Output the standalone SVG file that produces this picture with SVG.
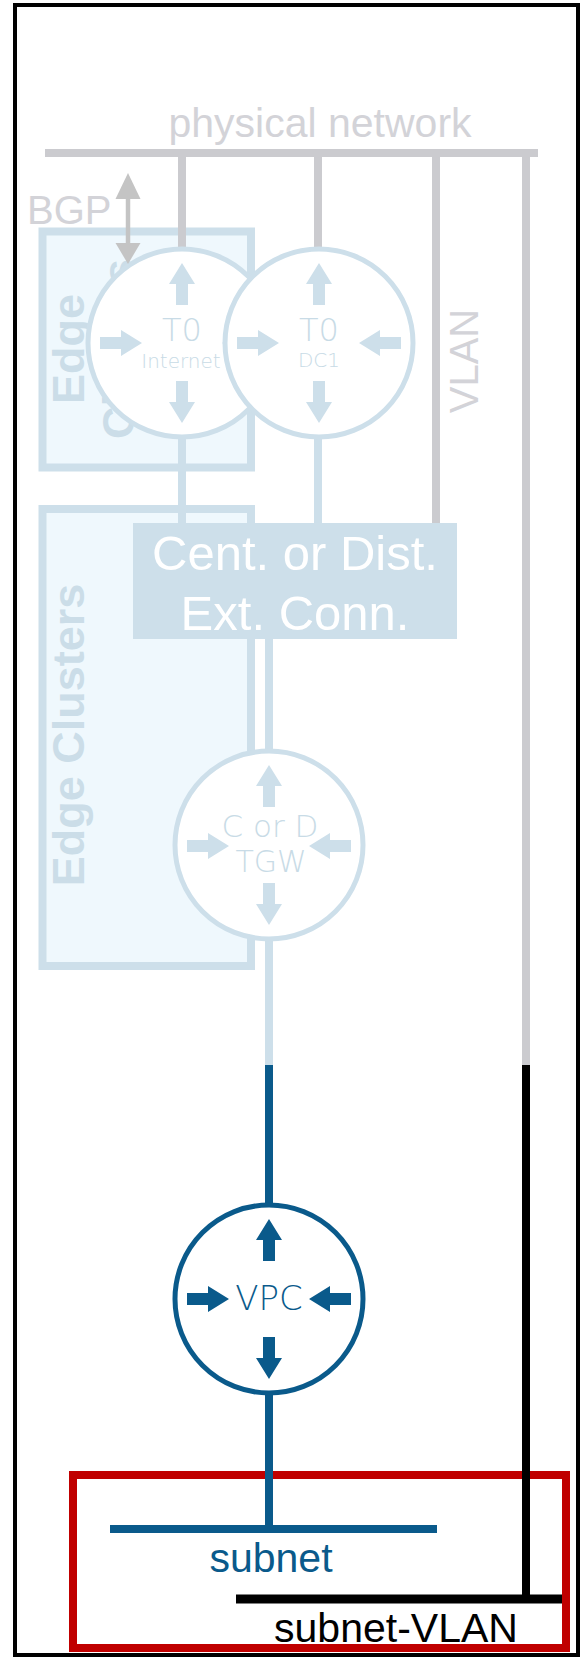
<svg xmlns="http://www.w3.org/2000/svg" xmlns:xlink="http://www.w3.org/1999/xlink" width="582" height="1677" viewBox="0 0 582 1677">
<style>
.box{fill:#eff8fd;stroke:#cddfea;stroke-width:8}
.edge{font-family:"Liberation Sans",Arial,sans-serif;font-weight:bold;font-size:45px;fill:#cbdde8}
.gl{stroke:#cbcbcf;stroke-width:8;fill:none}
.bl{stroke:#cddfea;stroke-width:8;fill:none}
.db{stroke:#0a5a8b;stroke-width:8;fill:none}
.lc{fill:#ffffff;stroke:#cddfea;stroke-width:5}
.dc{fill:#ffffff;stroke:#0a5a8b;stroke-width:5}
.la{fill:#cddfea}
.da{fill:#0a5a8b}
.ct{font-family:"DejaVu Sans",sans-serif;font-weight:200;fill:#c8dbe6;text-anchor:middle}
.gt{font-family:"Liberation Sans",Arial,sans-serif;fill:#d3d3d8}
.wt{font-family:"Liberation Sans",Arial,sans-serif;font-size:49px;fill:#ffffff;text-anchor:middle}
.bt{font-family:"Liberation Sans",Arial,sans-serif;font-size:41px;text-anchor:middle}
</style>
<defs>
<path id="ar" d="M0,-6 H21 V-13 L42,0 L21,13 V6 H0 Z"/>
</defs>
<rect x="0" y="0" width="582" height="1677" fill="#ffffff"/>
<rect id="frame" x="15" y="5" width="563" height="1650" fill="none" stroke="#000000" stroke-width="4"/>

<g id="edge-cluster-top">
<rect class="box" x="42.5" y="231.5" width="208.5" height="236"/>
<text class="edge" text-anchor="middle" transform="translate(84,349) rotate(-90)">Edge<tspan x="0" dy="50">Clusters</tspan></text>
</g>
<g id="edge-cluster-bottom">
<rect class="box" x="42.5" y="509" width="208.5" height="457"/>
<text class="edge" text-anchor="middle" transform="translate(84,735) rotate(-90)">Edge Clusters</text>
</g>

<g id="connectors">
<line class="gl" x1="45" y1="153" x2="538" y2="153"/>
<line class="gl" x1="182" y1="153" x2="182" y2="250"/>
<line class="gl" x1="318" y1="153" x2="318" y2="250"/>
<line class="gl" x1="436" y1="153" x2="436" y2="524"/>
<line class="gl" x1="526" y1="153" x2="526" y2="1066"/>
<line x1="526" y1="1065" x2="526" y2="1603" stroke="#000000" stroke-width="8"/>
<line class="bl" x1="182" y1="436" x2="182" y2="524"/>
<line class="bl" x1="318" y1="436" x2="318" y2="524"/>
<line class="bl" x1="269" y1="638" x2="269" y2="752"/>
<line class="bl" x1="269" y1="938" x2="269" y2="1066"/>
<line class="db" x1="269" y1="1065" x2="269" y2="1206"/>
</g>

<g id="physical-network">
<text class="gt" x="320" y="137" font-size="41" text-anchor="middle">physical network</text>
</g>
<g id="vlan-label">
<text class="gt" font-size="40" text-anchor="middle" transform="translate(478,361) rotate(-90)">VLAN</text>
</g>

<g id="ext-conn">
<rect x="133" y="523" width="324" height="116" fill="#cddfea"/>
<text class="wt" x="295" y="570">Cent. or Dist.</text>
<text class="wt" x="295" y="630">Ext. Conn.</text>
</g>

<g id="t0-internet">
<circle class="lc" cx="182" cy="343" r="94"/>
<use href="#ar" class="la" transform="translate(182,305) rotate(-90)"/>
<use href="#ar" class="la" transform="translate(182,381) rotate(90)"/>
<use href="#ar" class="la" transform="translate(100,343)"/>
<use href="#ar" class="la" transform="translate(264,343) rotate(180)"/>
<text class="ct" x="182" y="341" font-size="32">T0</text>
<text class="ct" x="181" y="368" font-size="20">Internet</text>
</g>

<g id="t0-dc1">
<circle class="lc" cx="319" cy="343" r="94"/>
<use href="#ar" class="la" transform="translate(319,305) rotate(-90)"/>
<use href="#ar" class="la" transform="translate(319,381) rotate(90)"/>
<use href="#ar" class="la" transform="translate(237,343)"/>
<use href="#ar" class="la" transform="translate(401,343) rotate(180)"/>
<text class="ct" x="319" y="341" font-size="32">T0</text>
<text class="ct" x="319" y="367" font-size="20">DC1</text>
</g>

<g id="bgp">
<text class="gt" x="27" y="224" font-size="40">BGP</text>
<line x1="128" y1="196" x2="128" y2="246" stroke="#c4c4c4" stroke-width="4.5"/>
<polygon points="128,173 115.5,199 140.5,199" fill="#c4c4c4"/>
<polygon points="128,264 115.5,243 140.5,243" fill="#c4c4c4"/>
</g>

<g id="tgw">
<circle class="lc" cx="269" cy="845" r="94"/>
<use href="#ar" class="la" transform="translate(269,807) rotate(-90)"/>
<use href="#ar" class="la" transform="translate(269,883) rotate(90)"/>
<use href="#ar" class="la" transform="translate(187,846)"/>
<use href="#ar" class="la" transform="translate(351,846) rotate(180)"/>
<text class="ct" x="270" y="837" font-size="31">C or D</text>
<text class="ct" x="271" y="872" font-size="30">TGW</text>
</g>

<g id="subnet-area">
<rect x="73" y="1475" width="493" height="173" fill="none" stroke="#c00000" stroke-width="8"/>
</g>

<g id="vpc-links">
<line class="db" x1="269" y1="1390" x2="269" y2="1530"/>
<line x1="526" y1="1470" x2="526" y2="1603" stroke="#000000" stroke-width="8"/>
</g>

<g id="vpc">
<circle class="dc" cx="269" cy="1299" r="94"/>
<use href="#ar" class="da" transform="translate(269,1261) rotate(-90)"/>
<use href="#ar" class="da" transform="translate(269,1337) rotate(90)"/>
<use href="#ar" class="da" transform="translate(187,1299)"/>
<use href="#ar" class="da" transform="translate(351,1299) rotate(180)"/>
<text class="ct" x="269" y="1310" font-size="34" style="fill:#0a5a8b">VPC</text>
</g>

<g id="subnet">
<line class="db" x1="110" y1="1529" x2="437" y2="1529" stroke-width="9"/>
<text class="bt" x="271" y="1572" fill="#0a5a8b">subnet</text>
</g>

<g id="subnet-vlan">
<line x1="236" y1="1599" x2="562" y2="1599" stroke="#000000" stroke-width="9"/>
<text class="bt" x="396" y="1642" fill="#000000">subnet-VLAN</text>
</g>
</svg>
